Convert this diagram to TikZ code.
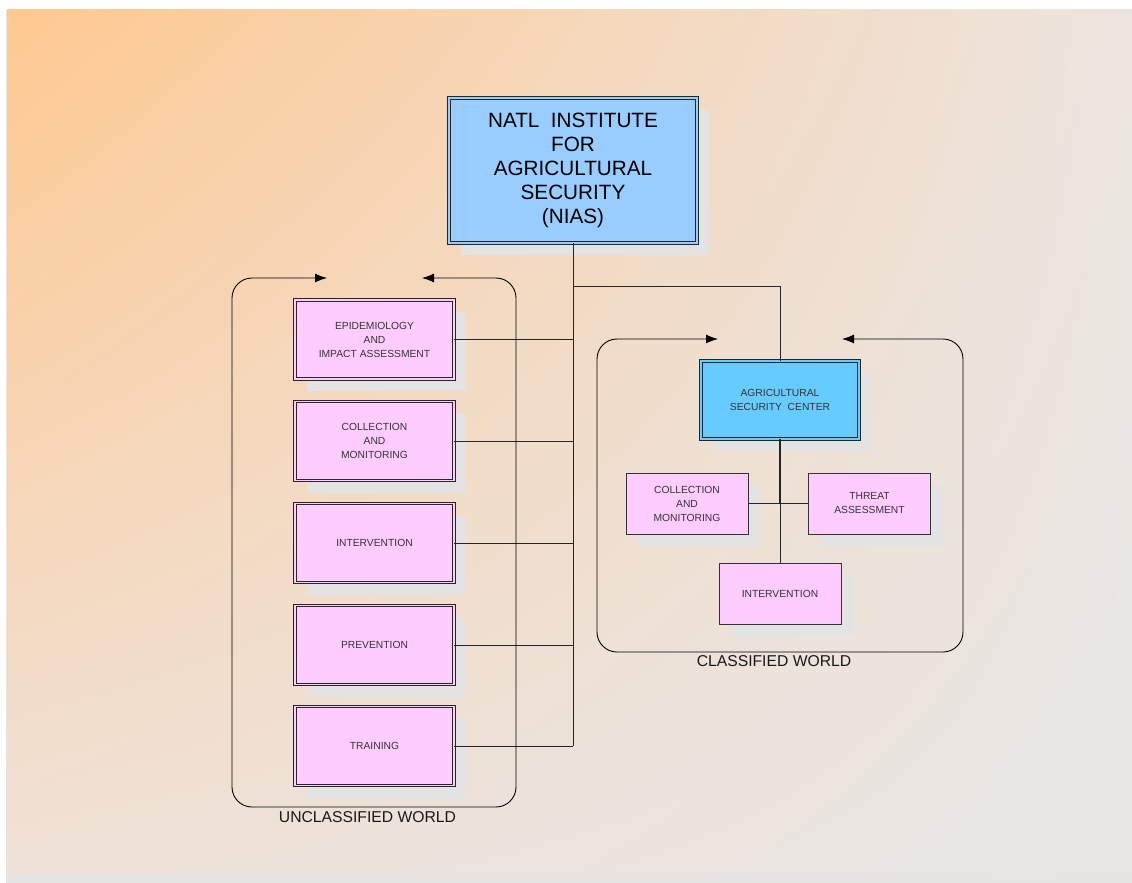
\documentclass[tikz,border=0pt]{standalone}
\usepackage{fontspec}
\setmainfont{Liberation Sans}
\usepackage{tikz}
\usetikzlibrary{arrows.meta,shadows,shadings}

\definecolor{slideorange}{HTML}{FFC890}
\definecolor{slidetr}{HTML}{ECE5DF}
\definecolor{slidebl}{HTML}{EFE2D7}
\definecolor{slidebr}{HTML}{E8E6E5}
\definecolor{slidegray}{HTML}{E6E5E4}
\definecolor{pinkfill}{HTML}{FFCCFF}
\definecolor{niasblue}{HTML}{99CCFF}
\definecolor{ascblue}{HTML}{66CCFF}
\definecolor{shadowgray}{HTML}{E3E3E3}
\definecolor{textgray}{HTML}{333333}

\tikzset{
  boxshadow/.style={drop shadow={shadow xshift=12pt, shadow yshift=-12pt, fill=shadowgray, opacity=1}},
  pinkbox/.style={boxshadow, draw=black!85, line width=0.8pt, double=pinkfill, double distance=1.6pt,
    fill=pinkfill, minimum width=159pt, minimum height=79pt, inner sep=0pt, align=center,
    text=textgray, font=\fontsize{10.3}{14}\selectfont},
  smallbox/.style={boxshadow, draw=black!80, line width=0.8pt, fill=pinkfill,
    minimum width=122pt, minimum height=61pt, inner sep=0pt, align=center,
    text=textgray, font=\fontsize{10.3}{14}\selectfont},
  ascbox/.style={pinkbox, fill=ascblue, double=ascblue, minimum width=158pt, minimum height=78pt},
  niasbox/.style={pinkbox, fill=niasblue, double=niasblue, minimum width=248pt, minimum height=145pt,
    text=black, font=\fontsize{20.7}{24}\selectfont},
  conn/.style={draw=black!85, line width=0.9pt},
  frame/.style={draw=black, line width=0.9pt, rounded corners=20pt,
    {Latex[length=12pt,width=9pt]}-{Latex[length=12pt,width=9pt]}},
  worldlabel/.style={text=black!90, font=\fontsize{15.7}{18}\selectfont, inner sep=0pt}
}

\begin{document}
\begin{tikzpicture}[x=1pt,y=-1pt]
    % slide
    \useasboundingbox (0,0) rectangle (1132,883);
    \fill[white] (0,0) rectangle (1132,883);
    \fill[slidegray] (6,10) rectangle (1132,883);
    \shade[upper left=slideorange, upper right=slidetr, lower left=slidebl, lower right=slidebr]
        (7,10) rectangle (1132,872);

    % boxes
    \node (nias) at (573,170.5) [niasbox] {NATL~~INSTITUTE\\FOR\\AGRICULTURAL\\SECURITY\\(NIAS)};
    \node (epid) at (374.5,339.5) [pinkbox] {EPIDEMIOLOGY\\AND\\IMPACT ASSESSMENT};
    \node (lcoll) at (374.5,441) [pinkbox] {COLLECTION\\AND\\MONITORING};
    \node (lint) at (374.5,543) [pinkbox] {INTERVENTION};
    \node (prev) at (374.5,645) [pinkbox] {PREVENTION};
    \node (train) at (374.5,746) [pinkbox] {TRAINING};
    \node (asc) at (780,400) [ascbox] {AGRICULTURAL\\SECURITY~~CENTER};
    \node (rcoll) at (687,503.5) [smallbox] {COLLECTION\\AND\\MONITORING};
    \node (threat) at (869.5,503.5) [smallbox] {THREAT\\ASSESSMENT};
    \node (rint) at (780,593.5) [smallbox] {INTERVENTION};

    % lines
    \coordinate (split) at (573,286);
    \coordinate (busend) at (573,746);
    \coordinate (ascjoin) at (780,503.5);
    \draw[conn] (nias.south) -- (busend);
    \draw[conn] (split) -| (asc.north);
    \draw[conn] (epid.east) -- (epid.east -| busend);
    \draw[conn] (lcoll.east) -- (lcoll.east -| busend);
    \draw[conn] (lint.east) -- (lint.east -| busend);
    \draw[conn] (prev.east) -- (prev.east -| busend);
    \draw[conn] (train.east) -- (train.east -| busend);
    \draw[conn, line width=2pt] (asc.south) -- (ascjoin);
    \draw[conn] (ascjoin) -- (rint.north);
    \draw[conn] (rcoll.east) -- (threat.west);

    % worlds
    \draw[frame] (327,278) -- (232,278) -- (232,807) -- (516,807) -- (516,278) -- (422,278);
    \draw[frame] (718,339) -- (597,339) -- (597,652) -- (963,652) -- (963,339) -- (842,339);
    \node (unclab) at (367.5,817) [worldlabel] {UNCLASSIFIED WORLD};
    \node (clab) at (774,661) [worldlabel] {CLASSIFIED WORLD};
\end{tikzpicture}
\end{document}
